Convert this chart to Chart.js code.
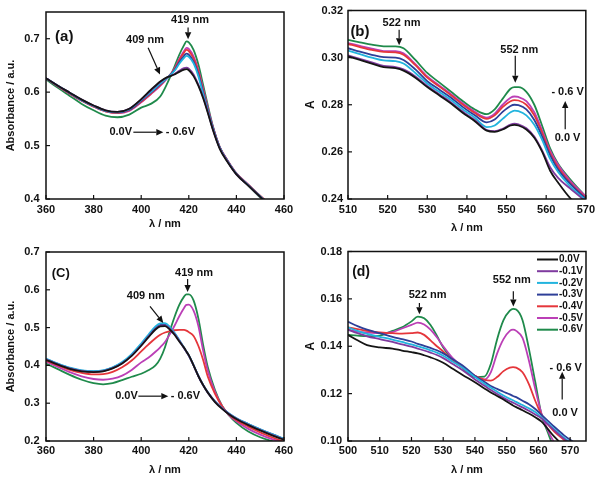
<!DOCTYPE html>
<html><head><meta charset="utf-8">
<script src="https://cdn.jsdelivr.net/npm/chart.js@4.4.1/dist/chart.umd.min.js"></script>
<style>
html,body{margin:0;padding:0;background:#fff;}
#wrap{position:relative;width:600px;height:479px;overflow:hidden;background:#fff;}
canvas{position:absolute;}
</style></head><body>
<div id="wrap">
<canvas id="ca" width="300" height="240" style="left:0;top:0"></canvas>
<canvas id="cb" width="300" height="240" style="left:300px;top:0"></canvas>
<canvas id="cc" width="300" height="239" style="left:0;top:240px"></canvas>
<canvas id="cd" width="300" height="239" style="left:300px;top:240px"></canvas>
</div>
<script>
// ---------- data ----------
const seriesLabels = ['0.0V','-0.1V','-0.2V','-0.3V','-0.4V','-0.5V','-0.6V'];

// panel (a)
const aWavelength = [360,365,370,375,380,385,390,395,400,404,408,411,414,416,418,419,420,422,424,426,428,430,433,436,440,445,450,455];
const aV0 = [0.626,0.612,0.599,0.586,0.575,0.566,0.563,0.569,0.587,0.604,0.620,0.628,0.633,0.638,0.642,0.643,0.641,0.630,0.612,0.589,0.561,0.531,0.494,0.471,0.446,0.425,0.404,0.385];
const aV1 = [0.626,0.612,0.599,0.586,0.575,0.566,0.563,0.569,0.586,0.603,0.619,0.628,0.634,0.640,0.645,0.646,0.644,0.633,0.614,0.591,0.563,0.532,0.495,0.472,0.446,0.425,0.404,0.385];
const aV2 = [0.626,0.612,0.599,0.585,0.574,0.565,0.562,0.568,0.585,0.600,0.616,0.627,0.640,0.653,0.664,0.668,0.666,0.654,0.630,0.597,0.565,0.534,0.496,0.473,0.447,0.426,0.405,0.386];
const aV3 = [0.626,0.612,0.598,0.585,0.574,0.565,0.562,0.567,0.584,0.599,0.615,0.627,0.641,0.656,0.668,0.672,0.670,0.657,0.634,0.600,0.567,0.535,0.496,0.473,0.447,0.426,0.405,0.386];
const aV4 = [0.626,0.611,0.597,0.584,0.573,0.564,0.561,0.566,0.582,0.597,0.613,0.627,0.643,0.660,0.674,0.679,0.677,0.663,0.639,0.604,0.569,0.536,0.497,0.474,0.448,0.427,0.406,0.387];
const aV5 = [0.626,0.611,0.597,0.584,0.573,0.564,0.561,0.565,0.581,0.596,0.612,0.626,0.644,0.662,0.677,0.683,0.681,0.667,0.642,0.607,0.571,0.537,0.497,0.474,0.448,0.427,0.405,0.386];
const aV6 = [0.624,0.608,0.593,0.578,0.566,0.556,0.553,0.558,0.571,0.578,0.592,0.617,0.648,0.670,0.688,0.695,0.693,0.679,0.652,0.614,0.575,0.538,0.497,0.473,0.447,0.425,0.403,0.384];
const aXTicks = [360,380,400,420,440,460];
const aYTicks = [0.4,0.5,0.6,0.7];

// panel (b)
const bWavelength = [510,513,516,519,522,524,527,530,533,536,539,542,545,547,549,551,552,553,555,557,559,561,563,566,570];
const bV0 = [0.3005,0.2990,0.2975,0.2960,0.2955,0.2945,0.2915,0.2875,0.2840,0.2805,0.2765,0.2730,0.2690,0.2685,0.2695,0.2712,0.2715,0.2712,0.2695,0.2660,0.2600,0.2520,0.2470,0.2405,0.2350];
const bV1 = [0.3010,0.2995,0.2980,0.2965,0.2960,0.2950,0.2920,0.2880,0.2845,0.2810,0.2770,0.2735,0.2693,0.2688,0.2698,0.2716,0.2720,0.2717,0.2700,0.2665,0.2605,0.2535,0.2490,0.2445,0.2390];
const bV2 = [0.3030,0.3015,0.3000,0.2988,0.2985,0.2975,0.2935,0.2890,0.2855,0.2820,0.2780,0.2745,0.2705,0.2712,0.2740,0.2768,0.2775,0.2773,0.2755,0.2715,0.2650,0.2570,0.2515,0.2455,0.2395];
const bV3 = [0.3040,0.3025,0.3012,0.3002,0.3000,0.2990,0.2950,0.2900,0.2865,0.2830,0.2790,0.2755,0.2725,0.2737,0.2770,0.2795,0.2800,0.2798,0.2780,0.2735,0.2665,0.2585,0.2525,0.2465,0.2400];
const bV4 = [0.3058,0.3045,0.3033,0.3024,0.3022,0.3012,0.2968,0.2915,0.2878,0.2840,0.2800,0.2765,0.2740,0.2755,0.2790,0.2815,0.2820,0.2818,0.2800,0.2755,0.2680,0.2595,0.2535,0.2470,0.2405];
const bV5 = [0.3062,0.3050,0.3038,0.3028,0.3027,0.3018,0.2972,0.2920,0.2882,0.2845,0.2805,0.2770,0.2745,0.2762,0.2800,0.2830,0.2835,0.2833,0.2815,0.2768,0.2690,0.2605,0.2545,0.2478,0.2410];
const bV6 = [0.3075,0.3065,0.3055,0.3048,0.3048,0.3040,0.2990,0.2935,0.2895,0.2855,0.2815,0.2780,0.2760,0.2780,0.2825,0.2868,0.2875,0.2875,0.2855,0.2800,0.2710,0.2615,0.2550,0.2485,0.2410];
const bXTicks = [510,520,530,540,550,560,570];
const bYTicks = [0.24,0.26,0.28,0.30,0.32];

// panel (c)
const cWavelength = [360,365,370,375,380,384,388,392,396,400,403,406,408,410,412,414,416,418,419,420,422,424,426,428,431,434,437,440,445,450,455,460];
const cV0 = [0.415,0.402,0.391,0.384,0.382,0.384,0.392,0.405,0.425,0.452,0.474,0.495,0.503,0.504,0.495,0.481,0.463,0.447,0.437,0.427,0.400,0.372,0.348,0.328,0.303,0.285,0.270,0.258,0.242,0.228,0.215,0.203];
const cV1 = [0.416,0.403,0.392,0.385,0.383,0.385,0.393,0.406,0.426,0.453,0.476,0.497,0.505,0.506,0.497,0.483,0.465,0.446,0.436,0.426,0.400,0.372,0.348,0.328,0.304,0.286,0.271,0.259,0.243,0.229,0.216,0.204];
const cV2 = [0.418,0.405,0.394,0.387,0.385,0.387,0.395,0.409,0.430,0.458,0.481,0.503,0.511,0.512,0.502,0.486,0.467,0.447,0.437,0.427,0.401,0.373,0.349,0.329,0.305,0.287,0.272,0.260,0.245,0.231,0.218,0.206];
const cV3 = [0.417,0.404,0.393,0.386,0.384,0.386,0.394,0.407,0.428,0.455,0.478,0.499,0.507,0.508,0.499,0.484,0.466,0.446,0.436,0.426,0.400,0.372,0.348,0.328,0.305,0.287,0.272,0.260,0.245,0.231,0.218,0.206];
const cV4 = [0.413,0.400,0.388,0.380,0.376,0.377,0.383,0.395,0.413,0.437,0.455,0.472,0.481,0.487,0.491,0.493,0.494,0.494,0.492,0.488,0.478,0.452,0.415,0.370,0.325,0.292,0.269,0.255,0.238,0.223,0.210,0.198];
const cV5 = [0.410,0.396,0.382,0.371,0.364,0.362,0.365,0.373,0.388,0.408,0.420,0.436,0.448,0.462,0.482,0.505,0.530,0.552,0.560,0.561,0.545,0.505,0.440,0.385,0.330,0.292,0.268,0.252,0.232,0.217,0.205,0.196];
const cV6 = [0.405,0.390,0.375,0.362,0.353,0.350,0.353,0.361,0.370,0.378,0.387,0.400,0.418,0.448,0.490,0.528,0.560,0.582,0.588,0.588,0.572,0.525,0.455,0.395,0.335,0.293,0.267,0.248,0.225,0.210,0.200,0.193];
const cXTicks = [360,380,400,420,440,460];
const cYTicks = [0.2,0.3,0.4,0.5,0.6,0.7];

// panel (d)
const dWavelength = [500,503,506,510,514,517,520,522,524,526,528,530,533,536,540,543,545,547,549,551,552,553,555,557,559,561,563,565,568,570,573,575];
const dV0 = [0.1448,0.1425,0.1405,0.1395,0.1390,0.1382,0.1375,0.1370,0.1362,0.1353,0.1343,0.1330,0.1305,0.1280,0.1248,0.1222,0.1205,0.1190,0.1175,0.1158,0.1150,0.1143,0.1130,0.1116,0.1100,0.1082,0.1050,0.1018,0.0980,0.0960,0.0935,0.0920];
const dV1 = [0.1470,0.1455,0.1442,0.1430,0.1418,0.1408,0.1398,0.1390,0.1382,0.1373,0.1363,0.1350,0.1325,0.1300,0.1260,0.1233,0.1215,0.1198,0.1182,0.1168,0.1162,0.1155,0.1142,0.1128,0.1112,0.1095,0.1070,0.1045,0.1010,0.0990,0.0965,0.0950];
const dV2 = [0.1480,0.1465,0.1452,0.1440,0.1428,0.1418,0.1408,0.1400,0.1392,0.1383,0.1373,0.1360,0.1335,0.1310,0.1270,0.1242,0.1225,0.1208,0.1192,0.1178,0.1172,0.1165,0.1152,0.1138,0.1122,0.1100,0.1075,0.1050,0.1015,0.0995,0.0970,0.0960];
const dV3 = [0.1503,0.1485,0.1470,0.1455,0.1440,0.1430,0.1420,0.1410,0.1402,0.1393,0.1383,0.1370,0.1345,0.1320,0.1275,0.1250,0.1232,0.1220,0.1208,0.1197,0.1190,0.1185,0.1170,0.1155,0.1135,0.1110,0.1085,0.1060,0.1025,0.1005,0.0980,0.0970];
const dV4 = [0.1480,0.1472,0.1465,0.1458,0.1455,0.1453,0.1455,0.1458,0.1448,0.1425,0.1400,0.1378,0.1340,0.1310,0.1275,0.1258,0.1255,0.1270,0.1295,0.1310,0.1312,0.1310,0.1290,0.1240,0.1170,0.1110,0.1070,0.1040,0.1005,0.0980,0.0960,0.0950];
const dV5 = [0.1470,0.1462,0.1458,0.1455,0.1460,0.1475,0.1490,0.1500,0.1492,0.1470,0.1438,0.1400,0.1350,0.1315,0.1275,0.1260,0.1290,0.1370,0.1430,0.1465,0.1470,0.1465,0.1435,0.1340,0.1220,0.1115,0.1045,0.0995,0.0960,0.0940,0.0920,0.0910];
const dV6 = [0.1448,0.1445,0.1443,0.1445,0.1465,0.1480,0.1505,0.1525,0.1518,0.1490,0.1445,0.1395,0.1345,0.1310,0.1270,0.1272,0.1325,0.1430,0.1510,0.1550,0.1558,0.1555,0.1510,0.1390,0.1250,0.1110,0.1035,0.0970,0.0930,0.0910,0.0890,0.0880];
const dXTicks = [500,510,520,530,540,550,560,570];
const dYTicks = [0.10,0.12,0.14,0.16,0.18];

// ---------- styles ----------
const seriesColors = ['#151515','#7f3b9f','#22b4de','#2e3f98','#e5363b','#bb3fb6','#1f8a4b'];
const FONT = '"Liberation Sans", Arial, Helvetica, sans-serif';
const INK = '#111';

// annotations in data units: ['t', x, y, text, size, align] / ['a', x1, y1, x2, y2]
const notes = {
  ca: [
    ['t',363.8,0.704,'(a)',15,'left'],
    ['t',420.5,0.735,'419 nm',11],
    ['a',419.7,0.721,419.7,0.699],
    ['t',401.6,0.697,'409 nm',11],
    ['a',402.9,0.683,407.9,0.633],
    ['t',391.4,0.525,'0.0V',11],
    ['a',396.7,0.525,409.3,0.525],
    ['t',410.3,0.525,'- 0.6V',11,'left']
  ],
  cb: [
    ['t',510.6,0.3108,'(b)',15,'left'],
    ['t',523.5,0.3147,'522 nm',11],
    ['a',522.9,0.3118,522.9,0.3052],
    ['t',553.2,0.3032,'552 nm',11],
    ['a',552.2,0.3008,552.2,0.2893],
    ['t',565.4,0.2855,'- 0.6 V',11],
    ['a',564.8,0.2696,564.8,0.2816],
    ['t',565.4,0.2661,'0.0 V',11]
  ],
  cc: [
    ['t',362.4,0.6433,'(C)',13,'left'],
    ['t',422.2,0.6458,'419 nm',11],
    ['a',419.5,0.6285,419.5,0.594],
    ['t',401.9,0.584,'409 nm',11],
    ['a',403.7,0.556,409.3,0.512],
    ['t',393.8,0.3186,'0.0V',11],
    ['a',398.8,0.3186,411.4,0.3186],
    ['t',412.4,0.3186,'- 0.6V',11,'left']
  ],
  cd: [
    ['t',501.3,0.1712,'(d)',14,'left'],
    ['t',525.1,0.1616,'522 nm',11],
    ['a',522.5,0.1583,522.5,0.1535],
    ['t',551.6,0.1679,'552 nm',11],
    ['a',552.1,0.1632,552.1,0.1568],
    ['t',568.6,0.1307,'- 0.6 V',11],
    ['a',567.5,0.1175,567.5,0.1292],
    ['t',568.4,0.1119,'0.0 V',11]
  ]
};

const decor = {
  id: 'decor',
  afterDraw(chart) {
    const ctx = chart.ctx, ca = chart.chartArea;
    const xs = chart.scales.x, ys = chart.scales.y;
    ctx.save();
    ctx.strokeStyle = INK; ctx.lineWidth = 1.2;
    xs.ticks.forEach(t => { const p = xs.getPixelForValue(t.value); ctx.beginPath(); ctx.moveTo(p, ca.bottom); ctx.lineTo(p, ca.bottom - 4); ctx.stroke(); });
    ys.ticks.forEach(t => { const p = ys.getPixelForValue(t.value); ctx.beginPath(); ctx.moveTo(ca.left, p); ctx.lineTo(ca.left + 4, p); ctx.stroke(); });
    ctx.lineWidth = 1.5;
    ctx.strokeRect(ca.left, ca.top, ca.right - ca.left, ca.bottom - ca.top);
    ctx.fillStyle = INK;
    (notes[chart.canvas.id] || []).forEach(n => {
      if (n[0] === 't') {
        ctx.font = 'bold ' + n[4] + 'px ' + FONT;
        ctx.textAlign = n[5] || 'center'; ctx.textBaseline = 'middle';
        ctx.fillText(n[3], xs.getPixelForValue(n[1]), ys.getPixelForValue(n[2]));
      } else {
        const x1 = xs.getPixelForValue(n[1]), y1 = ys.getPixelForValue(n[2]);
        const x2 = xs.getPixelForValue(n[3]), y2 = ys.getPixelForValue(n[4]);
        const ang = Math.atan2(y2 - y1, x2 - x1), L = 7, W = 3.2;
        const bx = x2 - L * Math.cos(ang), by = y2 - L * Math.sin(ang);
        ctx.lineWidth = 1.2;
        ctx.beginPath(); ctx.moveTo(x1, y1); ctx.lineTo(bx, by); ctx.stroke();
        ctx.beginPath(); ctx.moveTo(x2, y2);
        ctx.lineTo(bx + W * Math.sin(ang), by - W * Math.cos(ang));
        ctx.lineTo(bx - W * Math.sin(ang), by + W * Math.cos(ang));
        ctx.closePath(); ctx.fill();
      }
    });
    if (chart.canvas.id === 'cd') {
      ctx.font = 'bold 10px ' + FONT; ctx.textAlign = 'left'; ctx.textBaseline = 'middle';
      chart.data.datasets.forEach((ds, i) => {
        const yy = ca.top + 8 + i * 11.7;
        ctx.strokeStyle = ds.borderColor; ctx.lineWidth = 2;
        ctx.beginPath(); ctx.moveTo(ca.right - 49, yy); ctx.lineTo(ca.right - 28, yy); ctx.stroke();
        ctx.fillStyle = INK; ctx.fillText(ds.label, ca.right - 27, yy);
      });
    }
    ctx.restore();
  }
};

function build(id, cfg) {
  return new Chart(document.getElementById(id), {
    type: 'line',
    data: {
      datasets: cfg.series.map((vals, i) => ({
        label: seriesLabels[i],
        data: cfg.x.map((xv, j) => ({ x: xv, y: vals[j] })),
        borderColor: seriesColors[i], backgroundColor: seriesColors[i],
        borderWidth: 1.8, pointRadius: 0, fill: false,
        cubicInterpolationMode: 'monotone', clip: 0
      }))
    },
    options: {
      responsive: false, animation: false, devicePixelRatio: 1,
      layout: { padding: { top: cfg.top, right: cfg.right, left: 0, bottom: 0 } },
      plugins: { legend: { display: false }, tooltip: { enabled: false } },
      scales: {
        x: {
          type: 'linear', min: cfg.xMin, max: cfg.xMax,
          grid: { display: false, drawTicks: false }, border: { display: false },
          afterBuildTicks: s => { s.ticks = cfg.xTicks.map(v => ({ value: v })); },
          afterFit: s => { s.height = cfg.xH; },
          ticks: { padding: cfg.xTickPad, autoSkip: false, maxRotation: 0, color: INK,
                   font: { family: FONT, size: 11, weight: 'bold', lineHeight: 1 },
                   callback: v => String(v) },
          title: { display: true, text: 'λ / nm', color: INK,
                   font: { family: FONT, size: 11, weight: 'bold' },
                   padding: { top: 0, bottom: cfg.xTitlePad } }
        },
        y: {
          type: 'linear', min: cfg.yMin, max: cfg.yMax,
          grid: { display: false, drawTicks: false }, border: { display: false },
          afterBuildTicks: s => { s.ticks = cfg.yTicks.map(v => ({ value: v })); },
          afterFit: s => { s.width = cfg.yW; },
          ticks: { padding: cfg.yTickPad, autoSkip: false, color: INK,
                   font: { family: FONT, size: 11, weight: 'bold', lineHeight: 1 },
                   callback: v => Number(v).toFixed(cfg.yDec) },
          title: { display: true, text: cfg.yTitle, color: INK,
                   font: { family: FONT, size: cfg.yTitleSize, weight: 'bold' },
                   padding: { top: cfg.yTitlePad, bottom: 0 } }
        }
      }
    },
    plugins: [decor]
  });
}

build('ca', { x: aWavelength, series: [aV0,aV1,aV2,aV3,aV4,aV5,aV6], xMin: 360, xMax: 460, yMin: 0.4, yMax: 0.75,
  xTicks: aXTicks, yTicks: aYTicks, yDec: 1, top: 7, right: 16, xH: 41, yW: 46, yTickPad: 6.5, xTickPad: 5,
  xTitlePad: 9, yTitle: 'Absorbance / a.u.', yTitleSize: 11, yTitlePad: 4 });
build('cb', { x: bWavelength, series: [bV0,bV1,bV2,bV3,bV4,bV5,bV6], xMin: 510, xMax: 570, yMin: 0.24, yMax: 0.32,
  xTicks: bXTicks, yTicks: bYTicks, yDec: 2, top: 7, right: 14, xH: 41, yW: 48, yTickPad: 5, xTickPad: 5,
  xTitlePad: 5, yTitle: 'A', yTitleSize: 12, yTitlePad: 3 });
build('cc', { x: cWavelength, series: [cV0,cV1,cV2,cV3,cV4,cV5,cV6], xMin: 360, xMax: 460, yMin: 0.2, yMax: 0.7,
  xTicks: cXTicks, yTicks: cYTicks, yDec: 1, top: 10, right: 16, xH: 38, yW: 46, yTickPad: 6.5, xTickPad: 4.5,
  xTitlePad: 2.4, yTitle: 'Absorbance / a.u.', yTitleSize: 11, yTitlePad: 4 });
build('cd', { x: dWavelength, series: [dV0,dV1,dV2,dV3,dV4,dV5,dV6], xMin: 500, xMax: 575, yMin: 0.10, yMax: 0.18,
  xTicks: dXTicks, yTicks: dYTicks, yDec: 2, top: 10, right: 14, xH: 38, yW: 48, yTickPad: 6, xTickPad: 4,
  xTitlePad: 2.4, yTitle: 'A', yTitleSize: 12, yTitlePad: 3 });
</script>
</body></html>
